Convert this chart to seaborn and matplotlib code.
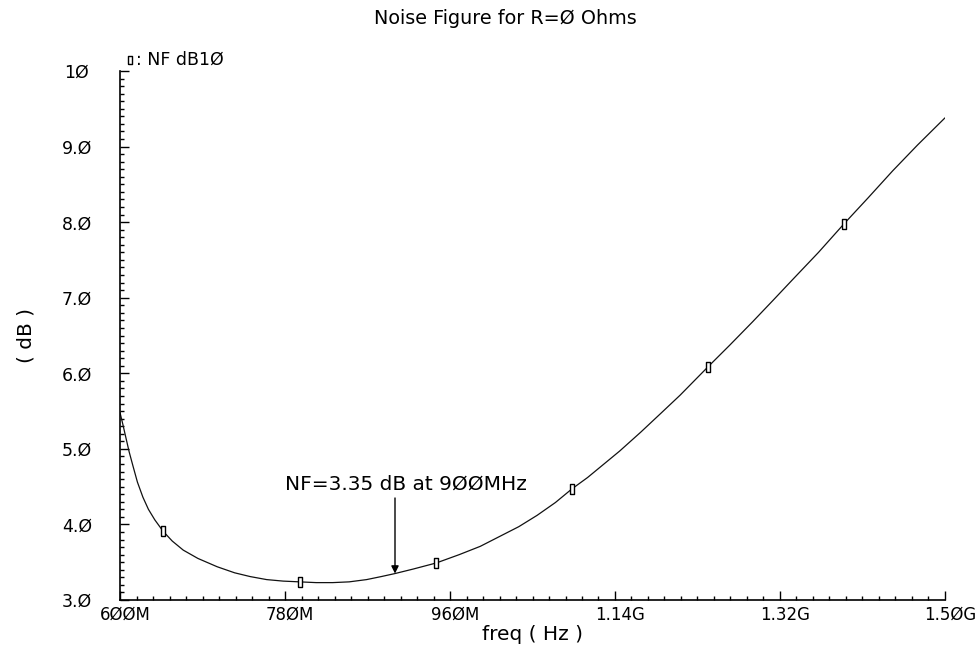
import matplotlib
matplotlib.use("Agg")
import matplotlib.pyplot as plt
import matplotlib.transforms as mtransforms
import seaborn as sns
import pandas as pd
import numpy as np

# Noise figure trace (frequency in MHz, NF in dB)
freq_mhz = [600, 603, 606, 610, 614, 619, 625, 631, 638, 647, 657, 669, 685,
            706, 725, 742, 760, 778, 796, 814, 832, 850, 869, 885, 900, 920,
            945, 970, 993, 1014, 1035, 1055, 1075, 1093, 1110, 1124, 1145,
            1168, 1190, 1211, 1241, 1265, 1290, 1312, 1333, 1362, 1390, 1416,
            1443, 1470, 1500]
nf_db = [5.48, 5.33, 5.17, 4.96, 4.78, 4.56, 4.36, 4.20, 4.06, 3.91, 3.78,
         3.66, 3.55, 3.44, 3.36, 3.31, 3.27, 3.25, 3.24, 3.23, 3.23, 3.24,
         3.27, 3.31, 3.35, 3.41, 3.49, 3.60, 3.71, 3.84, 3.97, 4.12, 4.29,
         4.47, 4.62, 4.76, 4.97, 5.22, 5.47, 5.71, 6.08, 6.37, 6.68, 6.96,
         7.23, 7.60, 7.98, 8.32, 8.68, 9.02, 9.38]

# Trace markers placed along the curve
marker_freq = [647, 796, 945, 1093, 1241, 1390]
marker_nf = [3.91, 3.24, 3.49, 4.47, 6.08, 7.98]

# Annotated point
note_freq = 900
note_nf = 3.35

x_ticks = [600, 780, 960, 1140, 1320, 1500]
x_labels = ["6ØØM", "78ØM", "96ØM", "1.14G", "1.32G", "1.5ØG"]
y_ticks = [3, 4, 5, 6, 7, 8, 9, 10]
y_labels = ["3.Ø", "4.Ø", "5.Ø", "6.Ø", "7.Ø", "8.Ø", "9.Ø", "1Ø"]

sns.set_theme(style="white")
plt.rcParams["font.family"] = ["DejaVu Sans"]
plt.rcParams["text.color"] = "black"
plt.rcParams["axes.labelcolor"] = "black"
plt.rcParams["xtick.color"] = "black"
plt.rcParams["ytick.color"] = "black"

fig = plt.figure(figsize=(9.79, 6.47), dpi=100)
ax = fig.add_axes([120 / 979, 1 - 600 / 647, 825 / 979, 529 / 647])

trace = pd.DataFrame({"freq": freq_mhz, "nf": nf_db})
marks = pd.DataFrame({"freq": marker_freq, "nf": marker_nf})

sns.lineplot(data=trace, x="freq", y="nf", ax=ax, color="#111111",
             linewidth=0.9, sort=False)

rect = [(-1, -2.2), (1, -2.2), (1, 2.2), (-1, 2.2), (-1, -2.2)]
ax.plot(marks["freq"], marks["nf"], linestyle="none", marker=rect,
        markersize=7, markerfacecolor="white", markeredgecolor="black",
        markeredgewidth=1.0)

ax.set_xlim(600, 1500)
ax.set_ylim(3, 10)
ax.set_xticks(x_ticks)
ax.set_xticklabels(x_labels, fontsize=12)
ax.set_yticks(y_ticks)
ax.set_yticklabels(y_labels, fontsize=12.5, ha="center")
ax.set_xticks(np.arange(600, 1501, 18), minor=True)
ax.set_yticks(np.arange(3, 10.001, 0.1), minor=True)

ax.tick_params(axis="both", which="both", direction="in", colors="black",
               bottom=True, left=True, top=False, right=False)
ax.tick_params(axis="both", which="major", length=6.5, width=1.0)
ax.tick_params(axis="both", which="minor", length=3, width=1.0)
ax.tick_params(axis="y", which="major", pad=31)
ax.tick_params(axis="x", which="major", pad=4)

# x tick labels sit a few pixels right of their ticks
shift = mtransforms.ScaledTranslation(5 / 100, 0, fig.dpi_scale_trans)
for lab in ax.get_xticklabels():
    lab.set_transform(lab.get_transform() + shift)

for side in ("top", "right"):
    ax.spines[side].set_visible(False)
for side in ("left", "bottom"):
    ax.spines[side].set_color("black")
    ax.spines[side].set_linewidth(1.2)

ax.set_xlabel("freq ( Hz )", fontsize=14.5, labelpad=1)
ax.set_ylabel("( dB )", fontsize=14.5, labelpad=19)

fig.text(505 / 979, 1 - 18 / 647, "Noise Figure for R=Ø Ohms",
         fontsize=13.8, ha="center", va="center")

# Legend entry at top left
ax.plot([130 / 979], [1 - 60 / 647], transform=fig.transFigure,
        clip_on=False, linestyle="none", marker=rect, markersize=6,
        markerfacecolor="white", markeredgecolor="black", markeredgewidth=1.0)
fig.text(136 / 979, 1 - 60 / 647, ": NF dB1Ø", fontsize=12.5,
         ha="left", va="center")

# Annotation with arrow down to the curve
ax.annotate("", xy=(note_freq, note_nf), xytext=(note_freq, 4.35),
            arrowprops=dict(arrowstyle="-|>", color="black", lw=1.0,
                            mutation_scale=11, shrinkA=0, shrinkB=0))
ax.text(912, 4.53, "NF=3.35 dB at 9ØØMHz", fontsize=14.5,
        ha="center", va="center")

fig.savefig("out.png", dpi=100)
